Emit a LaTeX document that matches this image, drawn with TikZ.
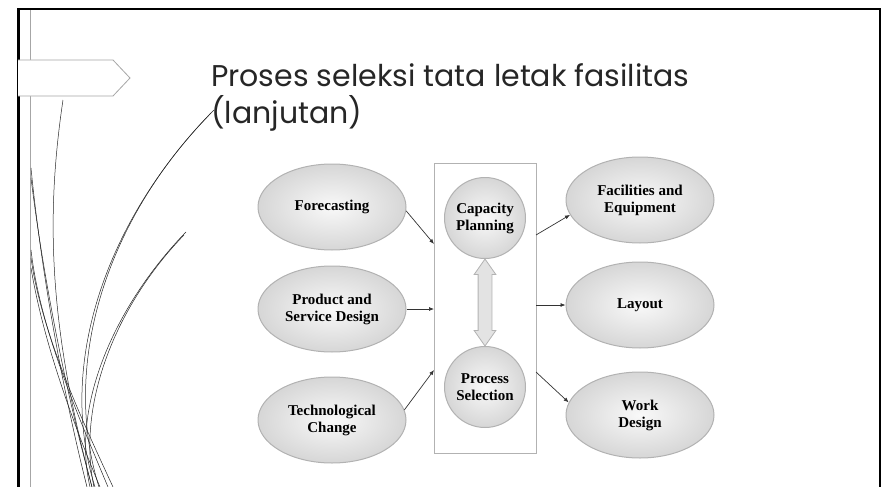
\documentclass[tikz,border=0pt]{standalone}
\usepackage{fontspec}
\setmainfont{Liberation Serif}
\newfontfamily\titlefont{Poppins}
\usetikzlibrary{shapes.geometric,shapes.arrows,arrows.meta}

\begin{document}
\begin{tikzpicture}[x=1pt, y=-1pt,
    oval/.style = {ellipse, draw=gray!60, line width=1pt, inner color=gray!5, outer color=gray!32,
                   minimum width=148pt, minimum height=86pt, inner sep=0pt, align=center,
                   font=\bfseries\fontsize{15}{17}\selectfont},
    ring/.style = {circle, draw=gray!60, line width=1pt, inner color=gray!5, outer color=gray!32,
                   minimum size=81pt, inner sep=0pt, align=center,
                   font=\bfseries\fontsize{15}{17}\selectfont},
    head/.style = {anchor=base west, inner sep=0pt, text=black!85,
                   font=\titlefont\fontsize{30}{37}\selectfont},
    link/.style = {-{Latex[length=5pt,width=4pt]}, line width=0.7pt, black!80},
    grass/.style = {line width=0.5pt, black!85}]
    \useasboundingbox (0,0) rectangle (881,487);

    % slide frame
    \draw[gray!70, line width=0.6pt] (30,9) -- (30,487);
    \draw[black, line width=2.4pt] (18.5,487) -- (18.5,9) -- (881,9);
    \draw[black, line width=2pt] (880,9) -- (880,487);

    % grass on the left
    \draw[grass] (63,100) .. controls (45,220) and (50,330) .. (92,487);
    \draw[grass] (214,110) .. controls (110,215) and (55,360) .. (95,487);
    \draw[grass] (211,113) .. controls (108,218) and (60,362) .. (99,487);
    \draw[grass] (186,232) .. controls (120,300) and (70,400) .. (90,487);
    \draw[grass] (184,235) .. controls (118,303) and (76,402) .. (94,487);
    \draw[grass] (31,168) .. controls (40,260) and (60,380) .. (87,487);
    \draw[grass] (31,178) .. controls (42,268) and (64,386) .. (92,487);
    \draw[grass] (31,250) .. controls (40,330) and (80,420) .. (108,487);
    \draw[grass] (31,258) .. controls (42,336) and (84,424) .. (113,487);
    \draw[grass] (31,268) .. controls (44,346) and (76,430) .. (100,487);

    % tab
    \draw[gray!70, fill=white, line width=0.8pt] (18,60) -- (113,60) -- (130,78) -- (113,96) -- (18,96);

    % title
    \node[head] (title1) at (211,86) {Proses seleksi tata letak fasilitas};
    \node[head] (title2) at (211,123) {(lanjutan)};

    % diagram
    \node[draw=gray!60, line width=1pt, minimum width=102pt, minimum height=290pt, inner sep=0pt] (box) at (485,308) {};
    \node[ring] (cp) at (485,218) {Capacity\\Planning};
    \node[ring] (ps) at (485,387) {Process\\Selection};
    \node[double arrow, draw=gray!60, fill=gray!22, line width=0.8pt, rotate=90, inner sep=6.5pt,
          minimum height=87pt, double arrow head extend=4pt,
          double arrow tip angle=70] (swap) at (485,302.5) {};

    \node[oval] (fc) at (332,207) {Forecasting};
    \node[oval] (psd) at (332,309) {Product and\\Service Design};
    \node[oval] (tc) at (332,420) {Technological\\Change};

    \node[oval] (fe) at (640,200) {Facilities and\\Equipment};
    \node[oval] (lo) at (640,305) {Layout};
    \node[oval] (wd) at (640,415) {Work\\Design};

    \coordinate (in1) at (434,244);
    \coordinate (in2) at (434,309);
    \coordinate (in3) at (434,370);
    \coordinate (out1) at (536,235);
    \coordinate (out2) at (536,305);
    \coordinate (out3) at (536,372);

    \draw[link] (fc.-3) -- (in1);
    \draw[link] (psd.east) -- (in2);
    \draw[link] (tc.8) -- (in3);
    \draw[link] (out1) -- (fe.192);
    \draw[link] (out2) -- (lo.west);
    \draw[link] (out3) -- (wd.170);
\end{tikzpicture}
\end{document}
